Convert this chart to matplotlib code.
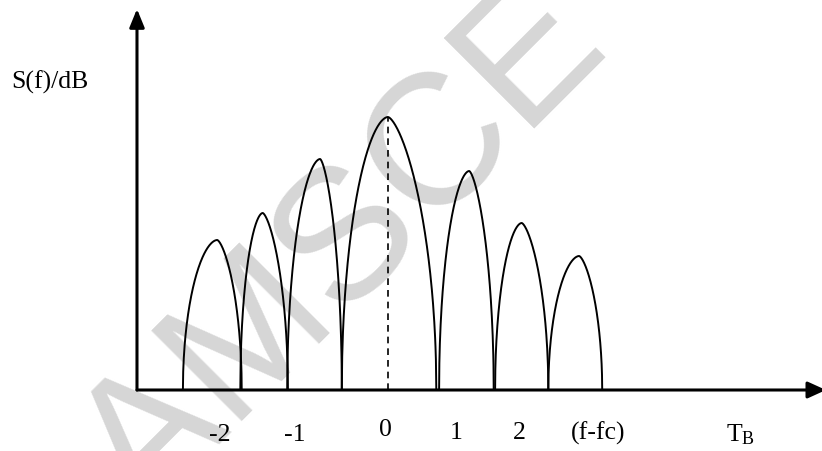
import numpy as np
import matplotlib
matplotlib.use("Agg")
import matplotlib.pyplot as plt

plt.rcParams['mathtext.fontset'] = 'custom'
plt.rcParams['mathtext.rm'] = 'Liberation Serif'
plt.rcParams['mathtext.it'] = 'Liberation Serif:italic'

# ---- data (frequency offset in units, level in arbitrary dB units) ----
lobe_start = [-2.93, -2.11, -1.44, -0.66, 0.73, 1.53, 2.29]
lobe_peak_x = [-2.44, -1.79, -0.97, 0.00, 1.16, 1.91, 2.73]
lobe_end = [-2.09, -1.43, -0.66, 0.69, 1.51, 2.29, 3.06]
lobe_height = [15.0, 17.7, 23.1, 27.3, 21.9, 16.7, 13.4]

tick_labels = ['-2', '-1', '0', '1', '2', '(f-fc)', 'T$_{\\mathrm{B}}$']
tick_x = [-2.41, -1.33, -0.04, 0.97, 1.87, 3.00, 5.04]
tick_y = [-4.5, -4.5, -4.0, -4.3, -4.3, -4.3, -4.5]

ylabel_text = 'S(f)/dB'
watermark = 'AMSCE'

# ---- figure ----
fig = plt.figure(figsize=(8.22, 4.51), dpi=100)
ax = fig.add_axes([0, 0, 1, 1])
ax.set_xlim(-5.543, 6.2)
ax.set_ylim(-6.1, 39.0)
ax.axis('off')

# watermark (behind everything)
ax.text(0.4185, 0.4435, watermark, fontsize=134, family='Liberation Sans',
        color='#d6d6d6', rotation=45, ha='center',
        va='center', rotation_mode='anchor', transform=fig.transFigure,
        zorder=1, clip_on=False)

# axes with arrows
x_axis_origin = -3.586
ax.annotate('', xy=(x_axis_origin, 38.1), xytext=(x_axis_origin, 0),
            arrowprops=dict(arrowstyle='-|>,head_length=1.1,head_width=0.45',
                            mutation_scale=10, lw=2.2, color='black',
                            shrinkA=0, shrinkB=0), zorder=3,
            annotation_clip=False)
ax.annotate('', xy=(6.257, 0), xytext=(x_axis_origin, 0),
            arrowprops=dict(arrowstyle='-|>,head_length=1.1,head_width=0.5',
                            mutation_scale=10, lw=2.2, color='black',
                            shrinkA=0, shrinkB=0), zorder=3,
            annotation_clip=False)

# lobes
s = np.linspace(1, 0, 120)
for x0, xp, x1, h in zip(lobe_start, lobe_peak_x, lobe_end, lobe_height):
    xl = xp - (xp - x0) * s
    yl = h * np.sqrt(np.clip(1 - s ** 1.8, 0, None))
    xr = xp + (x1 - xp) * s[::-1]
    yr = h * np.sqrt(np.clip(1 - s[::-1] ** 1.5, 0, None))
    ax.plot(np.concatenate([xl, xr]), np.concatenate([yl, yr]),
            color='black', lw=1.4, zorder=4, solid_capstyle='butt')

# dashed centre line
main = int(np.argmax(lobe_height))
ax.plot([lobe_peak_x[main], lobe_peak_x[main]], [0, lobe_height[main]],
        color='black', lw=1.2, dashes=(4, 3), zorder=4)

# labels
for lab, x, y in zip(tick_labels, tick_x, tick_y):
    ax.text(x, y, lab, ha='center', va='center', fontsize=18.5,
            family='Liberation Serif', zorder=5)
ax.text(-4.83, 30.8, ylabel_text, ha='center', va='center', fontsize=18.5,
        family='Liberation Serif', zorder=5)

fig.savefig('out.png', dpi=100)
